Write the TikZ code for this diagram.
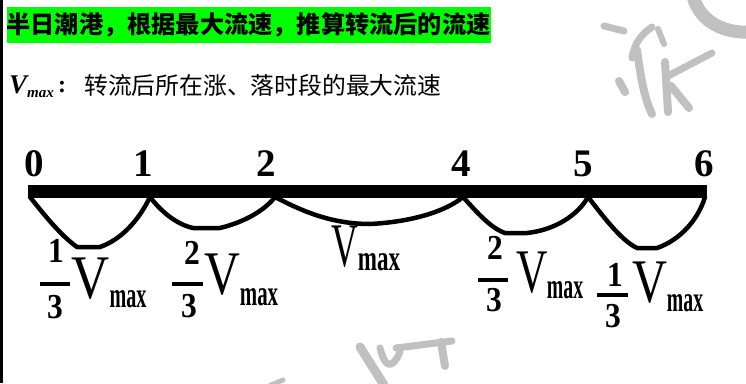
\documentclass[tikz,border=0pt]{standalone}
\usepackage{fontspec}
\setmainfont{Liberation Serif}
\newfontfamily\cjk{Noto Sans CJK SC}
\definecolor{titlegreen}{RGB}{0,255,0}
\definecolor{wmgray}{RGB}{192,192,192}
\newcommand\fsz[1]{\fontsize{#1}{#1}\selectfont}
\newcommand\sx[2]{\scalebox{#1}[1]{#2}}
\tikzset{
  bar/.style={fill=black},
  trough/.style={draw=black, line width=4.5pt, line join=round, line cap=round},
  tick/.style={inner sep=0pt, font=\fsz{39}\bfseries},
  frnum/.style={inner sep=0pt, font=\fsz{35}\bfseries},
  frbar/.style={draw=black, line width=4pt},
  vlet/.style={inner sep=0pt, font=\fsz{62}},
  maxlet/.style={inner sep=0pt, font=\fsz{36}\bfseries},
  wm/.style={draw=wmgray, line cap=round, line join=round},
}
\begin{document}
\begin{tikzpicture}[x=1pt,y=-1pt]
\useasboundingbox (0,0) rectangle (746,383);
\fill[white] (0,0) rectangle (746,383);
% left edge
\fill[black] (0,0) rectangle (3,383);

% watermark
\draw[wm, line width=13pt] (692,-8) .. controls (697,20) and (722,34) .. (752,32);
\draw[wm, line width=7pt] (604,26) -- (624,31);
\draw[wm, line width=7pt] (652,27) .. controls (640,35) and (634,45) .. (632,58);
\draw[wm, line width=6pt] (658,29) -- (664,44);
\draw[wm, line width=8pt] (637,50) .. controls (641,80) and (645,100) .. (652,114);
\draw[wm, line width=8pt] (619,81) -- (625,92);
\draw[wm, line width=8pt] (665,62) -- (668,112);
\draw[wm, line width=8pt] (671,86) -- (689,108);
\draw[wm, line width=7pt] (668,76) -- (712,53);
\draw[wm, line width=9pt] (360,347) -- (384,385);
\draw[wm, line width=7pt] (380,348) .. controls (385,368) and (392,370) .. (400,352);
\draw[wm, line width=7pt] (396,348) -- (452,341);
\draw[wm, line width=8pt] (441,342) -- (445,366);
\draw[wm, line width=5pt] (271,385) -- (283,380);

% title
\node[fill=titlegreen, minimum width=483pt, minimum height=36pt, inner sep=0pt,
      font=\cjk\bfseries\fsz{24.2}] (title) at (248.5,25) {半日潮港，根据最大流速，推算转流后的流速};

% definition line
\node[inner sep=0pt, anchor=west, font=\fsz{27}\bfseries\itshape] (vdef) at (9,87)
  {V\raisebox{-4pt}{\fsz{15}max}};
\node[inner sep=0pt, font=\fsz{24}\bfseries] (colon) at (62,87) {:};
\node[inner sep=0pt, anchor=west, font=\cjk\fsz{23.8}] (deftext) at (84,85)
  {转流后所在涨、落时段的最大流速};

% bar
\fill[bar] (28,185) rectangle (707,198);
\coordinate (p0) at (30,197);
\coordinate (p1) at (150,197);
\coordinate (p2) at (275,197);
\coordinate (p4) at (463,197);
\coordinate (p5) at (588,197);
\coordinate (p6) at (705,197);

% tick labels
\node[tick] (t0) at (34,163.5) {0};
\node[tick] (t1) at (143,163.5) {1};
\node[tick] (t2) at (266,163.5) {2};
\node[tick] (t4) at (461,163.5) {4};
\node[tick] (t5) at (583,163.5) {5};
\node[tick] (t6) at (704,163.5) {6};

% troughs
\draw[trough] (p0) .. controls (42,212) and (60,235) .. (77,247) -- (100,247)
  .. controls (120,240) and (138,222) .. (p1);
\draw[trough] (p1) .. controls (160,210) and (175,224) .. (193,228) -- (220,228)
  .. controls (245,222) and (265,210) .. (p2);
\draw[trough] (p2) .. controls (300,210) and (330,224) .. (370,224)
  .. controls (410,222) and (445,212) .. (p4);
\draw[trough] (p4) .. controls (475,210) and (490,228) .. (505,233) -- (527,233)
  .. controls (555,230) and (578,215) .. (p5);
\draw[trough] (p5) .. controls (600,212) and (620,240) .. (637,248) -- (657,248)
  .. controls (680,240) and (698,220) .. (p6);

% label A: 1/3 Vmax
\node[frnum] (an) at (56,251) {\sx{0.9}{1}};
\coordinate (ab1) at (40,284); \coordinate (ab2) at (70,284);
\draw[frbar] (ab1) -- (ab2);
\node[frnum] (ad) at (55,307) {\sx{0.9}{3}};
\node[vlet] (av) at (91,279) {\sx{0.85}{V}};
\node[maxlet] (am) at (128,299) {\sx{0.56}{max}};

% label B: 2/3 Vmax
\node[frnum] (bn) at (192,253) {\sx{0.9}{2}};
\coordinate (bb1) at (172,284); \coordinate (bb2) at (203,284);
\draw[frbar] (bb1) -- (bb2);
\node[frnum] (bd) at (189,306) {\sx{0.9}{3}};
\node[vlet] (bv) at (222,275) {\sx{0.8}{V}};
\node[maxlet] (bm) at (259,297) {\sx{0.58}{max}};

% middle Vmax
\node[vlet] (cv) at (345,247) {\sx{0.6}{V}};
\node[maxlet] (cm) at (379,262) {\sx{0.64}{max}};

% label D: 2/3 Vmax
\node[frnum] (dn) at (495,248) {\sx{0.9}{2}};
\coordinate (db1) at (478,280); \coordinate (db2) at (508,280);
\draw[frbar] (db1) -- (db2);
\node[frnum] (dd) at (494,300) {\sx{0.9}{3}};
\node[vlet] (dv) at (532,273) {\sx{0.7}{V}};
\node[maxlet] (dm) at (565,290) {\sx{0.55}{max}};

% label E: 1/3 Vmax
\node[frnum] (en) at (615,275) {\sx{0.9}{1}};
\coordinate (eb1) at (597,295); \coordinate (eb2) at (628,295);
\draw[frbar] (eb1) -- (eb2);
\node[frnum] (ed) at (613,316) {\sx{0.9}{3}};
\node[vlet] (ev) at (650,283) {\sx{0.78}{V}};
\node[maxlet] (em) at (685,303) {\sx{0.55}{max}};
\end{tikzpicture}
\end{document}
